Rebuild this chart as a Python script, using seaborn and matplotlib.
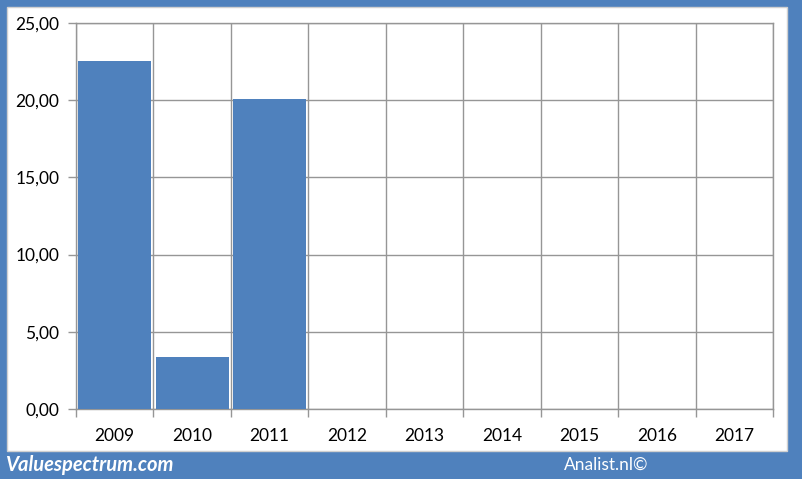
import numpy as np
import pandas as pd
import seaborn as sns
import matplotlib.pyplot as plt
from matplotlib.patches import Rectangle

years = ["2009", "2010", "2011", "2012", "2013", "2014", "2015", "2016", "2017"]
values = [22.55, 3.37, 20.08, np.nan, np.nan, np.nan, np.nan, np.nan, np.nan]
y_ticks = [0, 5, 10, 15, 20, 25]

blue = "#4F81BD"
grid = "#969696"

sns.set_style("white")
plt.rcParams["font.family"] = ["Lato", "DejaVu Sans"]

W, H = 803, 479
fig = plt.figure(figsize=(W / 100, H / 100), dpi=100)
fig.patch.set_facecolor(blue)

# white inner panel
fig.patches.append(Rectangle((7 / W, 1 - 451 / H), (787 - 7) / W, (451 - 7) / H,
                             transform=fig.transFigure, facecolor="white",
                             edgecolor="#D0D0D0", lw=1, zorder=-5))

ax = fig.add_axes([76 / W, 1 - 409 / H, (773 - 76) / W, (409 - 23) / H])
ax.set_zorder(2)
ax.set_facecolor("none")

df = pd.DataFrame({"year": years, "value": values})
sns.barplot(data=df, x="year", y="value", order=years, color=blue,
            saturation=1, width=0.94, edgecolor="none", ax=ax, zorder=3)

ax.set_xlim(-0.5, len(years) - 0.5)
ax.set_ylim(0, 25)
ax.set_yticks(y_ticks)
ax.set_yticklabels([f"{v:.2f}".replace(".", ",") for v in y_ticks])
ax.set_xticks(range(len(years)))
ax.set_xticklabels(years)
ax.set_xticks(np.arange(-0.5, len(years)), minor=True)
ax.set_xlabel("")
ax.set_ylabel("")

ax.grid(axis="y", color=grid, lw=1, zorder=1)
ax.grid(axis="x", which="minor", color=grid, lw=1, zorder=1)
ax.grid(axis="x", which="major", visible=False)
ax.tick_params(axis="x", which="major", length=0, pad=14, labelsize=12.5, colors="black")
ax.tick_params(axis="x", which="minor", length=6, width=1, color=grid, direction="out", bottom=True)
ax.tick_params(axis="y", length=6, width=1, color=grid, direction="out", left=True,
               pad=6, labelsize=12.5, labelcolor="black")
for s in ax.spines.values():
    s.set_color(grid)
    s.set_linewidth(1)

fig.text(5 / W, 1 - 465 / H, "Valuespectrum.com", color="white", fontsize=14.5,
         fontweight="bold", fontstyle="italic", va="center", ha="left")
fig.text(606 / W, 1 - 465 / H, "Analist.nl©", color="white", fontsize=12.5,
         va="center", ha="center")

fig.savefig("out.png", dpi=100, facecolor=blue)
